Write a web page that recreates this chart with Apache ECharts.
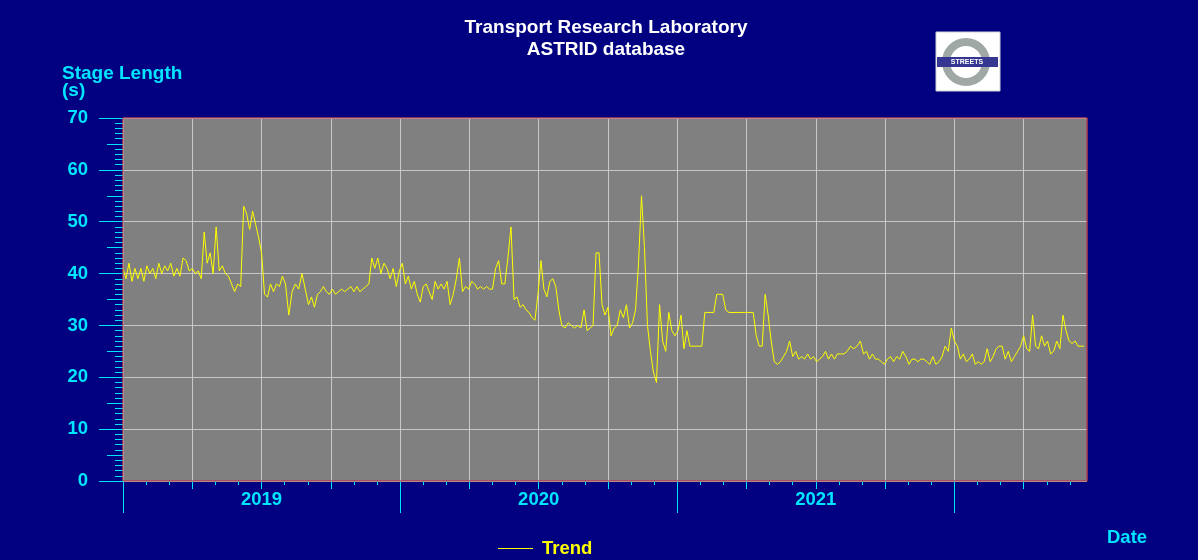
<!DOCTYPE html>
<html>
<head>
<meta charset="utf-8">
<script src="https://cdn.jsdelivr.net/npm/echarts@6/dist/echarts.min.js"></script>
<style>
html,body{margin:0;padding:0;background:#000080;}
#chart{width:1198px;height:560px;}
</style>
</head>
<body>
<div id="chart"></div>
<script>
// ---------------- data ----------------
const chartTitle = ['Transport Research Laboratory', 'ASTRID database'];
const yAxisTitle = ['Stage Length', '(s)'];
const xAxisTitle = 'Date';
const seriesName = 'Trend';
const logoText = 'STREETS';

const axisStartDate = '2018-07-01';
const axisEndDate = '2021-12-24';
const firstSampleDate = '2018-07-01';
const sampleStepDays = 4;

const yearLabels = [
  { date: '2019-01-01', text: '2019' },
  { date: '2020-01-01', text: '2020' },
  { date: '2021-01-01', text: '2021' }
];
const yTickValues = [0, 10, 20, 30, 40, 50, 60, 70];

// stage length (s), one reading every 4 days from 1 Jul 2018
const stageLength = [
  41,39,42,38.5,41,39,41,38.5,41.5,40,41,39,42,40,41.5,40.5,42,39.5,41,39.5,
  43,42.5,40.5,41,40,40.5,39,48,42,44,40,49,40.5,41.5,40,39.5,38,36.5,38,37.5,
  53,51.5,48.5,52,49.5,47,44,36,35.5,38,36.5,38,37.5,39.5,38,
  32,36.5,38,37,40,37,34,35.5,33.5,36,36.5,37.5,36.5,36,37,36,36.5,37,36.5,37,
  37.5,36.5,37.5,36.5,37,37.5,38,43,41,43,40,42,41,39,41,37.5,40.5,42,38,39.5,
  37,38.5,36,34.5,37.5,38,36.5,35,38.5,37,38,37,38.5,34,
  36,39,43,36.5,37.5,37,38.5,38,37,37.5,37,37.5,37,37,41,42.5,38,38,43,49,
  35,35.5,33.5,34,33,32.5,31.5,31,36,42.5,37,35.5,38.5,39,37.5,33,30,29.5,30.5,30,
  29.5,30,29.5,33,29,29.5,30,44,44,34,32,33.5,28,29.5,
  30,33,31.5,34,29.5,30.5,33,42,55,45,30,25,21,19,34,27,25,32.5,29,28,
  29,32,25.5,29,26,26,26,26,26,32.5,32.5,32.5,32.5,36,36,36,33,32.5,32.5,32.5,
  32.5,32.5,32.5,32.5,32.5,32.5,28,26,26,36,32,27,23,22.5,23,
  24,25,27,24,25,23.5,24,23.5,24.5,23.5,24,23,23.5,24,25,23.5,24.5,23.5,24.5,24.5,
  24.5,25,26,25.5,26,27,24.5,25,23.5,24.5,23.5,23.5,23,22.5,23.5,24,23,24,23.5,25,
  24,22.5,23.5,23.5,23,23.5,23.5,23,22.5,24,22.5,23,24,26,
  25,29.5,27,26,23.5,24.5,23,23.5,24.5,22.5,23,22.5,23,25.5,23,24,25.5,26,26,23.5,
  25,23,24,25,26,28,25.5,25,32,26,25.5,28,26,27,24.5,25,27,25.5,32,29,
  27,26.5,27,26,26,26
];

// ---------------- helpers ----------------
const FONT = '"Liberation Sans", Arial, Helvetica, sans-serif';
const CYAN = '#00e5ff';

function parseUTC(s) { const p = s.split('-').map(Number); return new Date(Date.UTC(p[0], p[1]-1, p[2])); }
const origin = parseUTC(axisStartDate);
function monthPos(d) {
  const y = d.getUTCFullYear(), m = d.getUTCMonth();
  const dim = new Date(Date.UTC(y, m + 1, 0)).getUTCDate();
  return (y - origin.getUTCFullYear()) * 12 + (m - origin.getUTCMonth()) + (d.getUTCDate() - 1) / dim;
}
const axisMax = monthPos(parseUTC(axisEndDate));
const first = parseUTC(firstSampleDate);
const points = stageLength.map((v, i) => {
  const d = new Date(first.getTime() + i * sampleStepDays * 86400000);
  return [monthPos(d), v];
});
const labelPos = yearLabels.map(l => ({ pos: monthPos(parseUTC(l.date)), text: l.text }));

const monthTicks = [], quarterTicks = [], yearTicks = [];
for (let m = 0; m < axisMax - 0.01; m++) {
  monthTicks.push(m);
  if (m % 3 === 0) quarterTicks.push(m);
  if (m % 12 === 0) yearTicks.push(m);
}

const G = { left: 123, top: 118, width: 964, height: 363 };

const chart = echarts.init(document.getElementById('chart'), null, { renderer: 'canvas' });
chart.setOption({
  animation: false,
  backgroundColor: '#000080',
  grid: { left: G.left, top: G.top, width: G.width, height: G.height, show: true,
          backgroundColor: '#808080', borderColor: '#b04050', borderWidth: 1 },
  legend: {
    data: [{ name: seriesName, icon: 'rect' }], left: 498, top: 539, padding: 0,
    itemWidth: 35, itemHeight: 1, itemGap: 10,
    itemStyle: { color: '#ffff00' },
    textStyle: { color: '#ffff00', fontSize: 18.5, fontWeight: 'bold', fontFamily: FONT, padding: [0, 0, 0, 4] }
  },
  xAxis: [
    {
      type: 'value', min: 0, max: axisMax, interval: 3, position: 'bottom',
      axisLine: { show: false },
      axisTick: { show: true, length: 8, customValues: quarterTicks, lineStyle: { color: CYAN } },
      splitLine: { show: true, lineStyle: { color: '#c8c8c8', width: 1 } },
      axisLabel: {
        show: true, color: CYAN, fontSize: 18.5, fontWeight: 'bold', fontFamily: FONT, margin: 9,
        showMinLabel: true, showMaxLabel: true,
        formatter: function (v) {
          for (const l of labelPos) { if (Math.abs(l.pos - v) < 0.01) return l.text; }
          return '';
        }
      }
    },
    {
      type: 'value', min: 0, max: axisMax, interval: 12, position: 'bottom', gridIndex: 0,
      axisLine: { show: false }, splitLine: { show: false }, axisLabel: { show: false },
      axisTick: { show: true, length: 32, customValues: yearTicks, lineStyle: { color: CYAN } }
    },
    {
      type: 'value', min: 0, max: axisMax, interval: 1, position: 'bottom', gridIndex: 0,
      axisLine: { show: false }, splitLine: { show: false }, axisLabel: { show: false },
      axisTick: { show: true, length: 4, customValues: monthTicks, lineStyle: { color: CYAN } }
    }
  ],
  yAxis: [
    {
      type: 'value', min: 0, max: 70, interval: 10, position: 'left',
      axisLine: { show: false },
      axisTick: { show: true, length: 24, lineStyle: { color: CYAN } },
      minorTick: { show: true, splitNumber: 10, length: 8, lineStyle: { color: CYAN } },
      splitLine: { show: true, lineStyle: { color: '#c8c8c8', width: 1 } },
      axisLabel: {
        color: CYAN, fontSize: 18.5, fontWeight: 'bold', fontFamily: FONT, margin: 35,
        formatter: function (v) { return yTickValues.indexOf(v) >= 0 ? String(v) : ''; }
      }
    },
    {
      type: 'value', min: 0, max: 70, interval: 5, position: 'left', gridIndex: 0,
      axisLine: { show: false }, splitLine: { show: false }, axisLabel: { show: false },
      axisTick: { show: true, length: 16, lineStyle: { color: CYAN } }
    }
  ],
  series: [{
    name: seriesName, type: 'line', xAxisIndex: 0, yAxisIndex: 0,
    data: points, symbol: 'none', showSymbol: false, clip: true,
    lineStyle: { color: '#ffff00', width: 1 }, itemStyle: { color: '#ffff00' }
  }],
  graphic: [
    { type: 'text', x: 606, y: 27.5, silent: true,
      style: { text: chartTitle[0], fill: '#ffffff', font: 'bold 19px ' + FONT, align: 'center', verticalAlign: 'middle' } },
    { type: 'text', x: 606, y: 49.5, silent: true,
      style: { text: chartTitle[1], fill: '#ffffff', font: 'bold 19px ' + FONT, align: 'center', verticalAlign: 'middle' } },
    { type: 'text', x: 62, y: 73.5, silent: true,
      style: { text: yAxisTitle[0], fill: CYAN, font: 'bold 19px ' + FONT, align: 'left', verticalAlign: 'middle' } },
    { type: 'text', x: 62, y: 90.5, silent: true,
      style: { text: yAxisTitle[1], fill: CYAN, font: 'bold 19px ' + FONT, align: 'left', verticalAlign: 'middle' } },
    { type: 'text', x: 1107, y: 538, silent: true,
      style: { text: xAxisTitle, fill: CYAN, font: 'bold 18.5px ' + FONT, align: 'left', verticalAlign: 'middle' } },
    // logo
    { type: 'rect', silent: true, shape: { x: 936, y: 32, width: 64, height: 59 },
      style: { fill: '#ffffff', stroke: '#d0d0d0', lineWidth: 1 } },
    { type: 'circle', silent: true, shape: { cx: 966, cy: 62, r: 20 },
      style: { fill: 'none', stroke: '#a0a8a6', lineWidth: 8 } },
    { type: 'rect', silent: true, shape: { x: 937, y: 57, width: 61, height: 10 },
      style: { fill: '#353592' } },
    { type: 'text', x: 967, y: 62, silent: true,
      style: { text: logoText, fill: '#ffffff', font: 'bold 7px ' + FONT, align: 'center', verticalAlign: 'middle' } },
    // plot frame on top of grid lines
    { type: 'rect', silent: true, z: 100, shape: { x: G.left, y: G.top, width: G.width, height: G.height },
      style: { fill: null, stroke: '#b04050', lineWidth: 1 } }
  ]
});
</script>
</body>
</html>
